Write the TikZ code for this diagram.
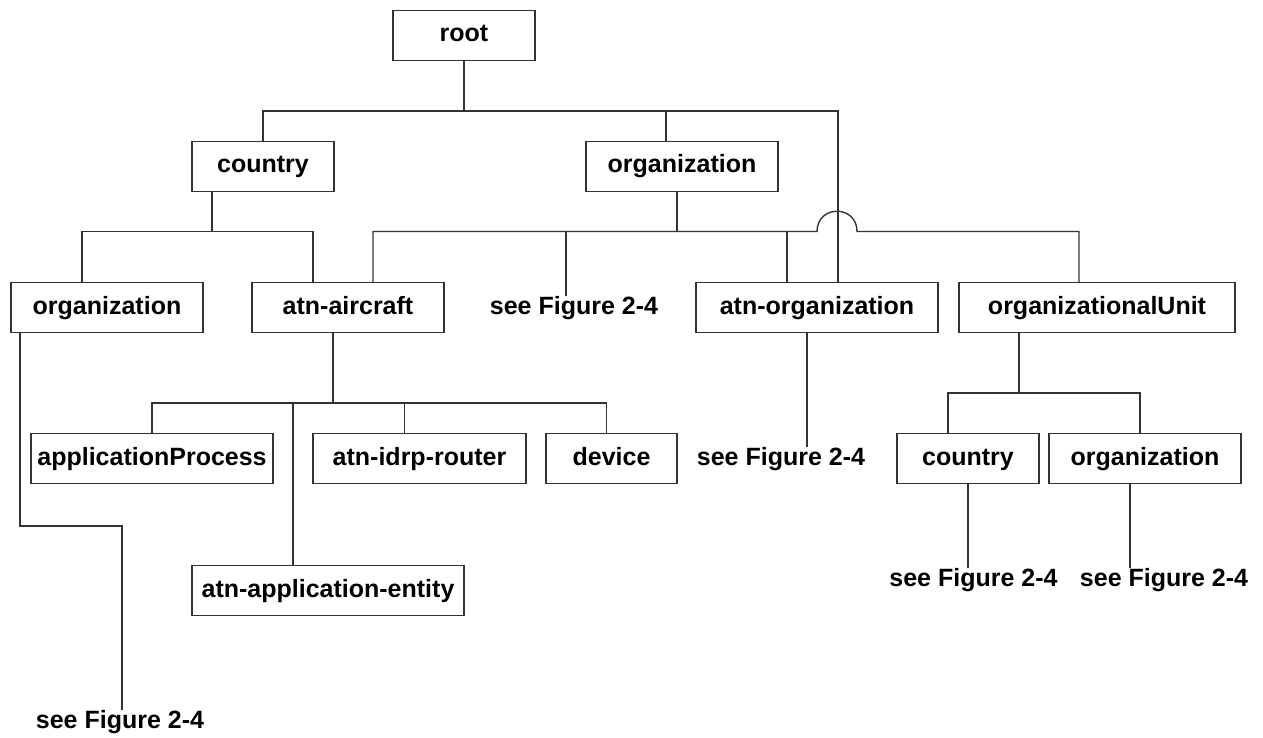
\documentclass[tikz,border=0pt]{standalone}
\usepackage{fontspec}
\setmainfont{Liberation Sans}
\begin{document}
\begin{tikzpicture}[x=1pt,y=-1pt,
  box/.style={draw=black!80, line width=1.4pt, minimum height=50pt, inner sep=0pt,
    text height=18pt, text depth=5pt, font=\fontsize{25}{30}\selectfont\bfseries},
  ref/.style={inner sep=0pt, text height=18pt, text depth=5pt, font=\fontsize{25}{30}\selectfont\bfseries},
  link/.style={draw=black!80, line width=1.4pt}]
  \useasboundingbox (0,0) rectangle (1263,738);
  % boxes
  \node[box, minimum width=142pt] (root) at (464,35.5) {root};
  \node[box, minimum width=142pt] (country) at (263,166.5) {country};
  \node[box, minimum width=192pt] (org) at (682,166.5) {organization};
  \node[box, minimum width=192pt] (orgL) at (107,307.5) {organization};
  \node[box, minimum width=192pt] (aircraft) at (348,307.5) {atn-aircraft};
  \node[ref] (seeA) at (574,308) {see Figure 2-4};
  \node[box, minimum width=242pt] (atnorg) at (817,307.5) {atn-organization};
  \node[box, minimum width=276pt] (ou) at (1097,307.5) {organizationalUnit};
  \node[box, minimum width=242pt] (appproc) at (152,458.5) {applicationProcess};
  \node[box, minimum width=213pt] (router) at (419.5,458.5) {atn-idrp-router};
  \node[box, minimum width=131pt] (device) at (611.5,458.5) {device};
  \node[ref] (seeB) at (781,459) {see Figure 2-4};
  \node[box, minimum width=142pt] (countryR) at (968,458.5) {country};
  \node[box, minimum width=192pt] (orgR) at (1145,458.5) {organization};
  \node[box, minimum width=272pt] (entity) at (328,590.5) {atn-application-entity};
  \node[ref] (seeC) at (973.5,580) {see Figure 2-4};
  \node[ref] (seeD) at (1164,580) {see Figure 2-4};
  \node[ref] (seeE) at (120,722) {see Figure 2-4};
  % bus levels
  \coordinate (topbus) at (0,111);
  \coordinate (midbus) at (0,231.5);
  \coordinate (acbus) at (0,403);
  \coordinate (oubus) at (0,393);
  \coordinate (elbow) at (0,526);
  % root
  \draw[link] (root.south) -- (root.south |- topbus);
  \draw[link] (country.north) |- ([xshift=21pt]atnorg.north |- topbus) -- ([xshift=21pt]atnorg.north);
  \draw[link] ([xshift=-16pt]org.north) -- ([xshift=-16pt]org.north |- topbus);
  % country
  \draw[link] ([xshift=-51pt]country.south) -- ([xshift=-51pt]country.south |- midbus);
  \draw[link] ([xshift=-25pt]orgL.north) |- ([xshift=-35pt]aircraft.north |- midbus) -- ([xshift=-35pt]aircraft.north);
  % organization, hopping over the root line
  \draw[link] ([xshift=25pt]aircraft.north) |- (817,231.5)
    .. controls (817,204.5) and (857,204.5) .. (857,231.5) -| ([xshift=-18pt]ou.north);
  \draw[link] ([xshift=-5pt]org.south) -- ([xshift=-5pt]org.south |- midbus);
  \draw[link] ([xshift=-8pt]seeA.north) -- ([xshift=-8pt]seeA.north |- midbus);
  \draw[link] ([xshift=-30pt]atnorg.north) -- ([xshift=-30pt]atnorg.north |- midbus);
  % atn-aircraft
  \draw[link] ([xshift=-15pt]aircraft.south) -- ([xshift=-15pt]aircraft.south |- acbus);
  \draw[link] (appproc.north) |- ([xshift=-5pt]device.north |- acbus) -- ([xshift=-5pt]device.north);
  \draw[link] ([xshift=-15pt]router.north) -- ([xshift=-15pt]router.north |- acbus);
  \draw[link] ([xshift=-35pt]entity.north) -- ([xshift=-35pt]entity.north |- acbus);
  % organization (left)
  \draw[link] ([xshift=-87pt]orgL.south) |- ([xshift=2pt]seeE.north |- elbow) -- ([xshift=2pt]seeE.north);
  % atn-organization
  \draw[link] ([xshift=-10pt]atnorg.south) -- ([xshift=-10pt]atnorg.south |- seeB.north);
  % organizationalUnit
  \draw[link] ([xshift=-78pt]ou.south) -- ([xshift=-78pt]ou.south |- oubus);
  \draw[link] ([xshift=-20pt]countryR.north) |- ([xshift=-5pt]orgR.north |- oubus) -- ([xshift=-5pt]orgR.north);
  \draw[link] (countryR.south) -- (countryR.south |- seeC.north);
  \draw[link] ([xshift=-15pt]orgR.south) -- ([xshift=-15pt]orgR.south |- seeD.north);
\end{tikzpicture}
\end{document}
